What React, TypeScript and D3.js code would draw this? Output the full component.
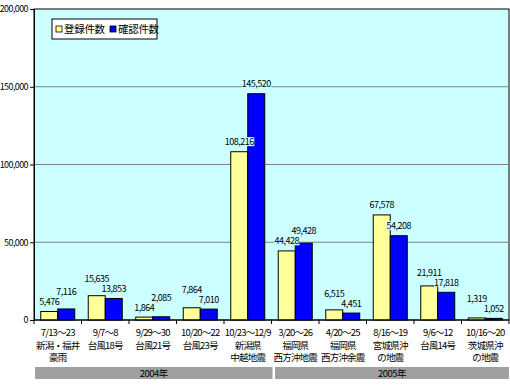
import React, { useEffect, useRef } from "react";
import * as d3 from "d3";

// 災害ごとの登録件数・確認件数
const periods = ["7/13〜23", "9/7〜8", "9/29〜30", "10/20〜22", "10/23〜12/9", "3/20〜26", "4/20〜25", "8/16〜19", "9/6〜12", "10/16〜20"];
const events = [["新潟・福井", "豪雨"], ["台風18号"], ["台風21号"], ["台風23号"], ["新潟県", "中越地震"], ["福岡県", "西方沖地震"], ["福岡県", "西方沖余震"], ["宮城県沖", "の地震"], ["台風14号"], ["茨城県沖", "の地震"]];
const registered = [5476, 15635, 1864, 7864, 108216, 44428, 6515, 67578, 21911, 1319];
const confirmed = [7116, 13853, 2085, 7010, 145520, 49428, 4451, 54208, 17818, 1052];
const years = [{ label: "2004年", from: 0, to: 5 }, { label: "2005年", from: 5, to: 10 }];
const yTicks = [0, 50000, 100000, 150000, 200000];
const seriesNames = ["登録件数", "確認件数"];
const colors = ["#FFFF99", "#0000FF"];

const App = () => {
  const ref = useRef<SVGSVGElement>(null);

  useEffect(() => {
    const width = 510;
    const height = 385;
    const left = 34, right = 509, top = 9, bottom = 320;
    const font = "'Noto Sans CJK JP', 'DejaVu Sans', sans-serif";
    const fmt = d3.format(",");

    const svg = d3.select(ref.current)
      .attr("width", width)
      .attr("height", height);
    svg.selectAll("*").remove();

    const x = d3.scaleBand<number>().domain(d3.range(periods.length)).range([left, right])
      .paddingInner(0.284).paddingOuter(0.142);
    const x1 = d3.scaleBand<number>().domain([0, 1]).range([0, x.bandwidth()]);
    const y = d3.scaleLinear().domain([0, 200000]).range([bottom, top]);
    const step = x.step();

    // plot area
    svg.append("rect")
      .attr("x", left).attr("y", top)
      .attr("width", right - left).attr("height", bottom - top)
      .attr("fill", "#CCFFFF").attr("stroke", "#000").attr("stroke-width", 1);

    // gridlines
    svg.selectAll(".grid").data(yTicks.slice(1, -1)).join("line")
      .attr("x1", left).attr("x2", right)
      .attr("y1", d => y(d)).attr("y2", d => y(d))
      .attr("stroke", "#808080").attr("stroke-width", 1);

    // y axis
    const yAxis = d3.axisLeft(y).tickValues(yTicks).tickSize(4).tickPadding(2).tickFormat(fmt);
    const ya = svg.append("g").attr("transform", `translate(${left},0)`).call(yAxis);
    ya.select(".domain").attr("stroke", "#000");
    ya.selectAll("line").attr("stroke", "#000");
    ya.selectAll("text").attr("font-family", font).attr("font-size", 9).attr("fill", "#000")
      .attr("letter-spacing", "-0.6");

    // bars
    const groups = svg.selectAll(".grp").data(periods.map((_, i) => i)).join("g")
      .attr("transform", i => `translate(${x(i)},0)`);
    groups.selectAll("rect").data(i => [registered[i], confirmed[i]]).join("rect")
      .attr("x", (_, j) => x1(j)!)
      .attr("y", d => y(d))
      .attr("width", x1.bandwidth())
      .attr("height", d => bottom - y(d))
      .attr("fill", (_, j) => colors[j])
      .attr("stroke", "#000").attr("stroke-width", 1);

    // value labels: the lower label sits above its bar, the taller bar's label is lifted clear of it
    groups.each(function (i) {
      const g = d3.select(this);
      const vals = [registered[i], confirmed[i]];
      const nat = vals.map(v => y(v) - 9);
      const hi = vals[0] >= vals[1] ? 0 : 1;
      const lo = 1 - hi;
      const pos = [0, 0];
      pos[lo] = nat[lo];
      pos[hi] = Math.min(nat[hi], nat[lo] - 10);
      vals.forEach((v, j) => {
        const cx = x1(j)! + x1.bandwidth() / 2;
        const t = g.append("text")
          .attr("x", cx).attr("y", pos[j])
          .attr("text-anchor", "middle").attr("dominant-baseline", "middle")
          .attr("font-family", font).attr("font-size", 9).attr("letter-spacing", "-0.5")
          .text(fmt(v));
        const bb = (t.node() as SVGTextElement).getBBox();
        g.insert("rect", "text")
          .attr("x", bb.x).attr("y", bb.y + 2).attr("width", bb.width).attr("height", bb.height - 4)
          .attr("fill", "#CCFFFF");
      });
    });

    // x axis line and category ticks
    svg.append("line").attr("x1", left).attr("x2", right).attr("y1", bottom).attr("y2", bottom).attr("stroke", "#000");
    svg.selectAll(".xt").data(d3.range(periods.length + 1)).join("line")
      .attr("x1", i => left + i * step).attr("x2", i => left + i * step)
      .attr("y1", bottom).attr("y2", bottom + 4).attr("stroke", "#000");

    // category labels
    periods.forEach((p, i) => {
      const cx = left + (i + 0.5) * step;
      const t = svg.append("text").attr("text-anchor", "middle")
        .attr("font-family", font).attr("font-size", 9.5).attr("letter-spacing", "-0.8");
      [p, ...events[i]].forEach((line, k) => {
        t.append("tspan").attr("x", cx).attr("y", 336 + k * 12.5).text(line);
      });
    });

    // year bands
    years.forEach((yr, k) => {
      const x0 = left + yr.from * step + (k === 0 ? 1 : 3.5);
      const xEnd = left + yr.to * step + (k === 0 ? 1 : 0);
      svg.append("rect").attr("x", x0).attr("y", 367).attr("width", xEnd - x0).attr("height", 12)
        .attr("fill", "#A0A0A0");
      svg.append("text").attr("x", (x0 + xEnd) / 2).attr("y", 377)
        .attr("text-anchor", "middle").attr("font-family", font).attr("font-size", 9.5)
        .attr("letter-spacing", "-0.5")
        .text(yr.label);
    });

    // legend
    const lg = svg.append("g").attr("transform", "translate(52,19)");
    lg.append("rect").attr("width", 105).attr("height", 20).attr("fill", "#fff").attr("stroke", "#000");
    seriesNames.forEach((name, j) => {
      const ox = 4 + j * 54;
      lg.append("rect").attr("x", ox).attr("y", 7).attr("width", 6).attr("height", 6)
        .attr("fill", colors[j]).attr("stroke", "#000").attr("stroke-width", 0.8);
      lg.append("text").attr("x", ox + 8).attr("y", 14)
        .attr("font-family", font).attr("font-size", 10.5).attr("letter-spacing", "-0.3").text(name);
    });
  }, []);

  return <svg ref={ref} style={{ position: "absolute", left: 0, top: 0, background: "#fff" }} />;
};

export default App;
